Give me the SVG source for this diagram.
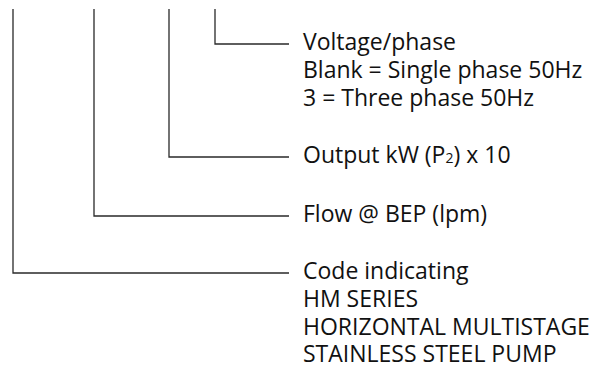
<svg xmlns="http://www.w3.org/2000/svg" width="611" height="367" viewBox="0 0 611 367">
<style>
.c{fill:none;stroke:#2a2a2a;stroke-width:1.3}
.t{font-family:"Open Sans","Liberation Sans",sans-serif;font-size:23px;fill:#111}
</style>
<rect width="611" height="367" fill="#fff"/>
<g id="connectors">
<polyline class="c" points="13,9 13,273 289,273"/>
<polyline class="c" points="94,9 94,216 289,216"/>
<polyline class="c" points="169,9 169,157 289,157"/>
<polyline class="c" points="215,9 215,44 289,44"/>
</g>
<g id="voltage">
<text class="t" x="303" y="50">Voltage/phase</text>
<text class="t" x="303" y="78">Blank = Single phase 50Hz</text>
<text class="t" x="303" y="106">3 = Three phase 50Hz</text>
</g>
<g id="output">
<text class="t" x="303" y="163">Output kW (P<tspan font-size="14">2</tspan>) x 10</text>
</g>
<g id="flow">
<text class="t" x="303" y="222">Flow @ BEP (lpm)</text>
</g>
<g id="code">
<text class="t" x="303" y="279">Code indicating</text>
<text class="t" x="303" y="307">HM SERIES</text>
<text class="t" x="303" y="335">HORIZONTAL MULTISTAGE</text>
<text class="t" x="303" y="362">STAINLESS STEEL PUMP</text>
</g>
</svg>
